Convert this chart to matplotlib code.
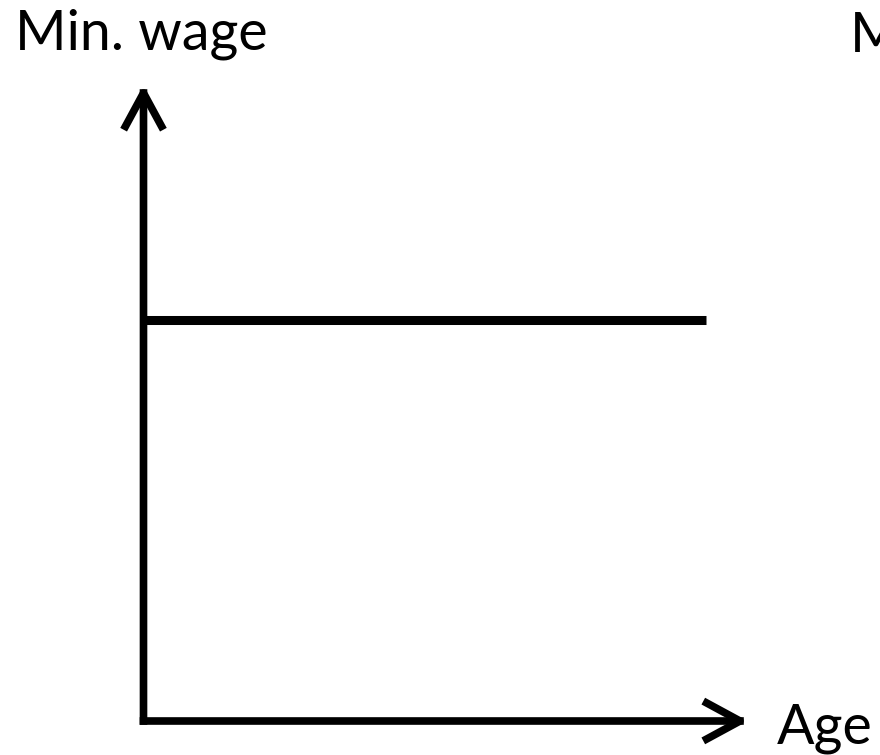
import matplotlib
matplotlib.use("Agg")
import matplotlib.pyplot as plt

# conceptual chart: flat minimum wage regardless of age
age = [0, 9.3]
min_wage = [6.3, 6.3]
x_max = 10
y_max = 10

plt.rcParams['font.family'] = ['Lato', 'DejaVu Sans']

fig = plt.figure(figsize=(8.8, 7.55), dpi=100)
W, H = 880, 755
# axes origin at the corner of the two arrows
ax = fig.add_axes([143.5 / W, (H - 721) / H, (748 - 143.5) / W, (721 - 85) / H])
ax.set_xlim(0, x_max)
ax.set_ylim(0, y_max)
ax.axis('off')

arrow = dict(arrowstyle='->, head_length=1.2, head_width=0.65', lw=5.5,
             color='black', shrinkA=0, shrinkB=0, mutation_scale=20,
             capstyle='projecting')
ax.annotate('', xy=(0, y_max), xytext=(0, 0), arrowprops=arrow,
            annotation_clip=False)
ax.annotate('', xy=(x_max, 0), xytext=(0, 0), arrowprops=arrow,
            annotation_clip=False)

ax.plot(age, min_wage, color='black', lw=6.5, solid_capstyle='butt')

fig.text(15 / W, 1 - 50 / H, 'Min. wage', fontsize=40, va='baseline')
fig.text(850 / W, 1 - 52 / H, 'M', fontsize=40, va='baseline')
fig.text(777 / W, 1 - 743 / H, 'Age', fontsize=40, va='baseline')

fig.savefig('out.png', dpi=100)
